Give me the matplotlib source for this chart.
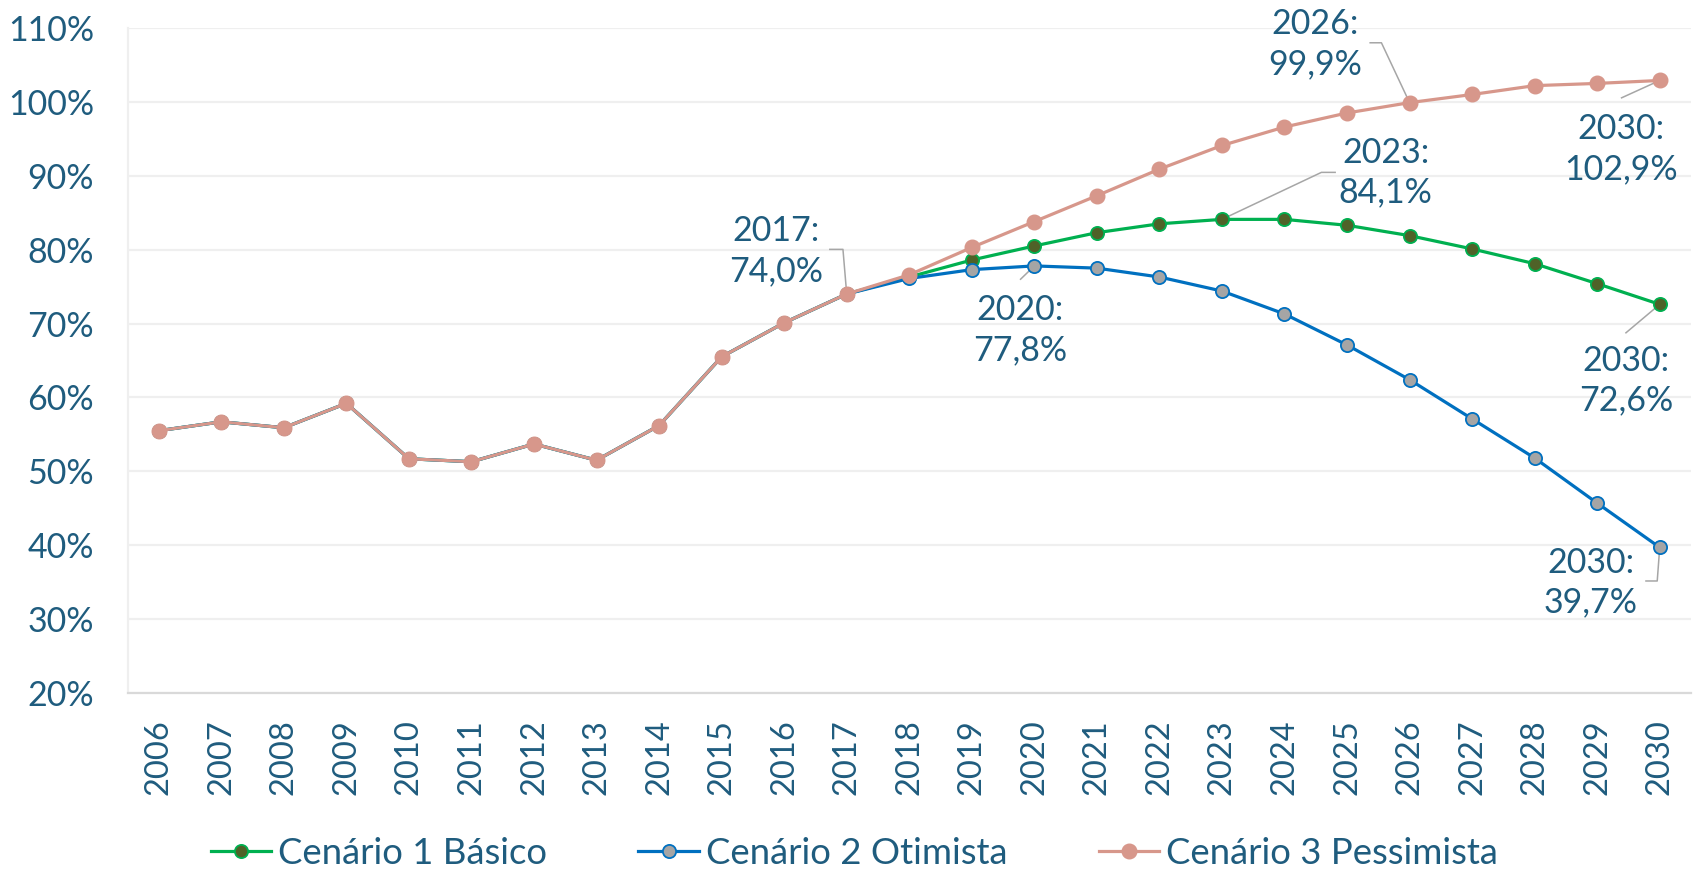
import matplotlib
matplotlib.use("Agg")
import matplotlib.pyplot as plt
from matplotlib.ticker import FuncFormatter

plt.rcParams['font.family'] = ['Lato', 'DejaVu Sans']

years = list(range(2006, 2031))
basico = [55.5, 56.7, 55.9, 59.2, 51.7, 51.3, 53.7, 51.5, 56.2, 65.5, 70.1, 74.0,
          76.3, 78.6, 80.5, 82.3, 83.5, 84.1, 84.1, 83.3, 81.9, 80.1, 78.1, 75.4, 72.6]
otimista = [55.5, 56.7, 55.9, 59.2, 51.7, 51.3, 53.7, 51.5, 56.2, 65.5, 70.1, 74.0,
            76.1, 77.3, 77.8, 77.5, 76.3, 74.4, 71.3, 67.1, 62.4, 57.1, 51.8, 45.7, 39.7]
pessimista = [55.5, 56.7, 55.9, 59.2, 51.7, 51.3, 53.7, 51.5, 56.2, 65.5, 70.1, 74.0,
              76.6, 80.3, 83.8, 87.3, 90.9, 94.1, 96.6, 98.5, 99.9, 101.0, 102.2, 102.5, 102.9]
series_names = ["Cenário 1 Básico", "Cenário 2 Otimista", "Cenário 3 Pessimista"]
yticks = [20, 30, 40, 50, 60, 70, 80, 90, 100, 110]

TXT = '#1F5C7E'
W, H = 1694, 872
fig = plt.figure(figsize=(W / 100, H / 100), dpi=100)
ax = fig.add_axes([127.5 / W, 1 - 693 / H, (1691 - 127.5) / W, (693 - 28) / H])

x = list(range(len(years)))
ax.plot(x, basico, color='#00B050', lw=2.3, marker='o', ms=9.5,
        mfc='#4F6228', mec='#00B050', mew=1.3, zorder=3, label=series_names[0])
ax.plot(x, otimista, color='#0070C0', lw=2.3, marker='o', ms=9.5,
        mfc='#A5A5A5', mec='#0070C0', mew=1.3, zorder=4, label=series_names[1])
ax.plot(x, pessimista, color='#D7978B', lw=2.3, marker='o', ms=10.5,
        mfc='#D7978B', mec='#D7978B', mew=1.0, zorder=5, label=series_names[2])

ax.set_xlim(-0.5, len(years) - 0.5)
ax.set_ylim(20, 110)
ax.set_yticks(yticks)
ax.yaxis.set_major_formatter(FuncFormatter(lambda v, p: f"{v:.0f}%"))
ax.set_xticks(x)
ax.set_xticklabels([str(y) for y in years], rotation=90)
ax.tick_params(axis='y', length=0, pad=24, labelsize=24.5, labelcolor=TXT)
ax.tick_params(axis='x', length=0, pad=19, labelsize=23.5, labelcolor=TXT)
ax.grid(axis='y', color='#EFEFEF', lw=1.6)
ax.set_axisbelow(True)
for s in ['top', 'right']:
    ax.spines[s].set_visible(False)
ax.spines['left'].set_color('#EFEFEF')
ax.spines['left'].set_linewidth(1.6)
ax.spines['bottom'].set_color('#D9D9D9')
ax.spines['bottom'].set_linewidth(1.6)

data = {'b': basico, 'o': otimista, 'p': pessimista}
# (series, year, text position (x idx, y), leader waypoints)
labels = [
    ('p', 2017, (9.87, 79.8), [(10.73, 80.04), (10.94, 80.04)]),
    ('o', 2020, (13.77, 69.1), [(13.78, 76.0)]),
    ('b', 2023, (19.62, 90.4), [(18.81, 90.46), (18.59, 90.46)]),
    ('p', 2026, (18.49, 107.8), [(19.37, 108.0), (19.55, 108.0)]),
    ('p', 2030, (23.38, 93.6), [(23.39, 100.55)]),
    ('b', 2030, (23.46, 62.3), [(23.46, 68.75)]),
    ('o', 2030, (22.9, 34.95), [(23.78, 35.16), (23.96, 35.16)]),
]
for key, yr, tpos, way in labels:
    i = years.index(yr)
    v = data[key][i]
    txt = f"{yr}:\n{v:.1f}%".replace('.', ',')
    ax.text(tpos[0], tpos[1], txt, ha='center', va='center', fontsize=24.5,
            color=TXT, linespacing=1.3, zorder=6)
    px = [w[0] for w in way] + [i]
    py = [w[1] for w in way] + [v]
    ax.plot(px, py, color='#A6A6A6', lw=1.1, zorder=2.5, clip_on=False)

leg = fig.legend(loc='center', bbox_to_anchor=(0.5044, 1 - 853 / H), ncol=3,
                 frameon=False, fontsize=26.3, handlelength=1.65, handletextpad=0.2,
                 columnspacing=2.5)
for t in leg.get_texts():
    t.set_color(TXT)

fig.savefig("out.png", dpi=100)
